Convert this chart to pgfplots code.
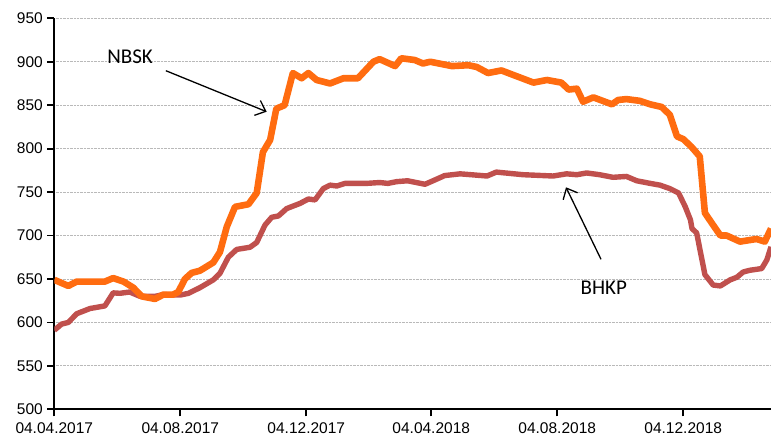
\documentclass[border=0pt]{standalone}
\usepackage{pgfplots}
\pgfplotsset{compat=1.18}
\usepackage{fontspec}
\setmainfont{Liberation Sans}
\newfontfamily\labelfont{Carlito}
\usetikzlibrary{arrows.meta}
\definecolor{nbsk}{HTML}{FF6C10}
\definecolor{bhkp}{HTML}{C0504D}
\begin{document}
\begin{tikzpicture}
\path[use as bounding box] (-54.3pt,-27.7pt) rectangle (716.7pt,409.3pt);
\begin{axis}[at={(0pt,0pt)}, anchor=south west, scale only axis,
  width=716.7pt, height=391pt,
  xmin=0, xmax=694, ymin=500, ymax=950,
  ytick={500,550,...,950},
  xtick={0,122,244,365,487,609},
  xticklabels={04.04.2017,04.08.2017,04.12.2017,04.04.2018,04.08.2018,04.12.2018},
  axis lines*=left,
  axis line style={line width=1.8pt, black},
  tick align=outside, major tick length=7pt,
  tick style={line width=1.8pt, black},
  ymajorgrids, major grid style={densely dotted, gray!55, line width=0.8pt},
  tick label style={font=\fontsize{15.5}{18}\selectfont},
  /pgf/number format/assume math mode=true,
  xticklabel style={yshift=-2.5pt},
  yticklabel style={xshift=-1pt},
  clip=true,
]
\addplot[bhkp, line width=5.4pt, line join=round] coordinates {
(0,591)(7,598)(13.6,600)(21.7,610)(34.6,616)(49,619)(57,634)(63.6,633.5)(73,635)(83,630)(97.5,630)(105.5,632)(122,631.5)(130,633.5)(141,640)(154,649)(160.4,656.5)(168.5,675)(176.6,684)(189.5,686.5)(196,692)(204,712)(210.5,721)(217,722.5)(225,731)(238,737)(246,742)(252.5,741)(260.5,754)(267,758)(273.5,757)(281.5,760)(302.5,760)(315,761)(323,760)(331.5,762)(342,763)(359,759)(368.6,764)(378,769)(393,771)(419,768.5)(428,773)(454,770)(483,768.5)(496,771)(506,770)(515.5,772)(528,770)(541,767)(554,768)(564,763)(577,760)(586.5,758)(596,754)(604.5,749)(611,733)(616,718)(617.5,708)(622,703)(630,655)(638,643)(645,642)(654.5,649)(661,652)(667,658)(673.5,660)(685,662)(690,672)(694,687)
};
\addplot[nbsk, line width=6.6pt, line join=round] coordinates {
(0,649)(13.6,642)(21.7,647)(49,647)(57,651)(67,647)(76.5,640)(84.6,630)(97.5,627)(105.5,632)(115,632)(120,635)(126.5,650)(133,657)(141,659.5)(154,669)(160.4,681)(167,710)(175,733)(188,736)(196,749)(202,796)(209,810)(215,846)(223,850)(231,887)(239.5,881)(246,887)(254,879)(267,875)(280,881)(294,881)(309,900)(315,903)(330,895)(336,904)(349,902)(357,898)(364,900)(385,895)(401,896)(409,894)(420,887)(433,890)(444,885)(464,876)(477,879)(491,876)(498,868)(506,869)(512,854)(522,859)(540,851)(546,856)(554,857)(567,855)(577,851)(588,848)(596,839)(603,814)(609,811)(617,802)(625,791)(630,726)(638,712)(645,700)(651,700)(664,693)(680,696)(688,693)(694,708)
};
\node[font=\labelfont\fontsize{21}{24}\selectfont] at (axis cs:73.4,905.8) {NBSK};
\node[font=\labelfont\fontsize{21}{24}\selectfont] at (axis cs:532,639.6) {BHKP};
\draw[line width=1.3pt, -{Straight Barb[length=9pt,width=16pt]}] (axis cs:108,889.7) -- (axis cs:205.6,842.5);
\draw[line width=1.3pt, -{Straight Barb[length=9pt,width=16pt]}] (axis cs:529.4,672.6) -- (axis cs:495.5,755.5);
\end{axis}
\end{tikzpicture}
\end{document}
